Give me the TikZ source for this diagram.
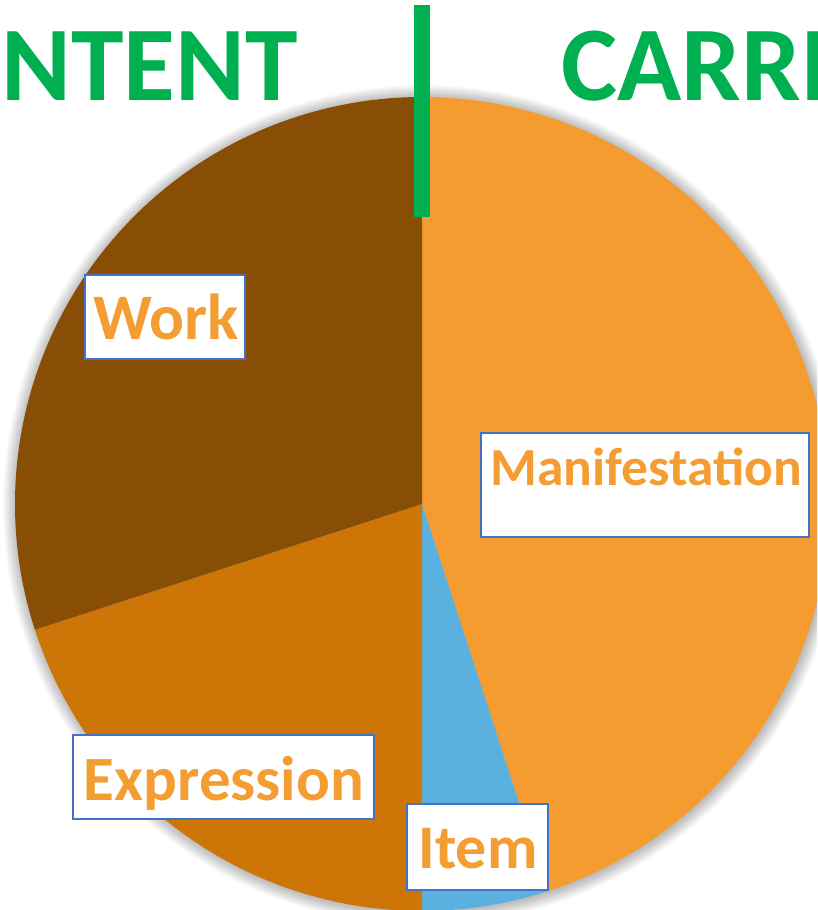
\documentclass[tikz,border=0pt]{standalone}
\usepackage{fontspec}
\setmainfont{Carlito}
\definecolor{workc}{RGB}{136,78,5}
\definecolor{exprc}{RGB}{205,117,7}
\definecolor{manic}{RGB}{244,156,48}
\definecolor{itemc}{RGB}{90,176,223}
\definecolor{greenc}{RGB}{0,176,80}
\definecolor{boxblue}{RGB}{68,114,196}
\definecolor{lblc}{RGB}{244,157,50}
\tikzset{
  lblbox/.style={draw=boxblue, line width=1.5pt, fill=white, inner sep=0pt},
  lbltext/.style={text=lblc, font=\bfseries, inner sep=0pt, anchor=base},
  head/.style={text=greenc, font=\bfseries\fontsize{106}{110}\selectfont, inner sep=0pt, anchor=base west},
  slice/.style={draw=none}
}
\begin{document}
\begin{tikzpicture}[x=1pt,y=-1pt]
\useasboundingbox (0,0) rectangle (817,910);
\clip (0,0) rectangle (817,910);
\fill[white] (0,0) rectangle (817,910);
\coordinate (c) at (422,504);
% soft shadow
\foreach \i in {1,...,14} {
  \fill[black, opacity=0.02] ([shift={(1,1)}]c) circle (406+\i);
}
% slices (screen angles, clockwise)
\fill[manic] (c) -- ++(-90:407) arc (-90:72:407) -- cycle;
\fill[itemc] (c) -- ++(72:407) arc (72:90:407) -- cycle;
\fill[exprc] (c) -- ++(90:407) arc (90:162:407) -- cycle;
\fill[workc] (c) -- ++(162:407) arc (162:270:407) -- cycle;
% header
\node[head] (content) at (1,100) {NTENT};
\node[head] (carrier) at (561,100) {CARRI};
\fill[greenc] (414,5) rectangle (430,217);
% label boxes
\node[lblbox, minimum width=160pt, minimum height=84pt] (workbox) at (165,317) {};
\node[lbltext, font=\bfseries\fontsize{65}{70}\selectfont] (work) at (166,339) {Work};
\node[lblbox, minimum width=328pt, minimum height=104pt] (manibox) at (645,485) {};
\node[lbltext, font=\bfseries\fontsize{53.5}{56}\selectfont] (mani) at (646.5,485) {Manifestation};
\node[lblbox, minimum width=301pt, minimum height=84pt] (exprbox) at (223.5,777) {};
\node[lbltext, font=\bfseries\fontsize{63}{66}\selectfont] (expr) at (224,800) {Expression};
\node[lblbox, minimum width=141pt, minimum height=86pt] (itembox) at (477.5,847) {};
\node[lbltext, font=\bfseries\fontsize{62}{64}\selectfont] (item) at (478,868) {Item};
\end{tikzpicture}
\end{document}
